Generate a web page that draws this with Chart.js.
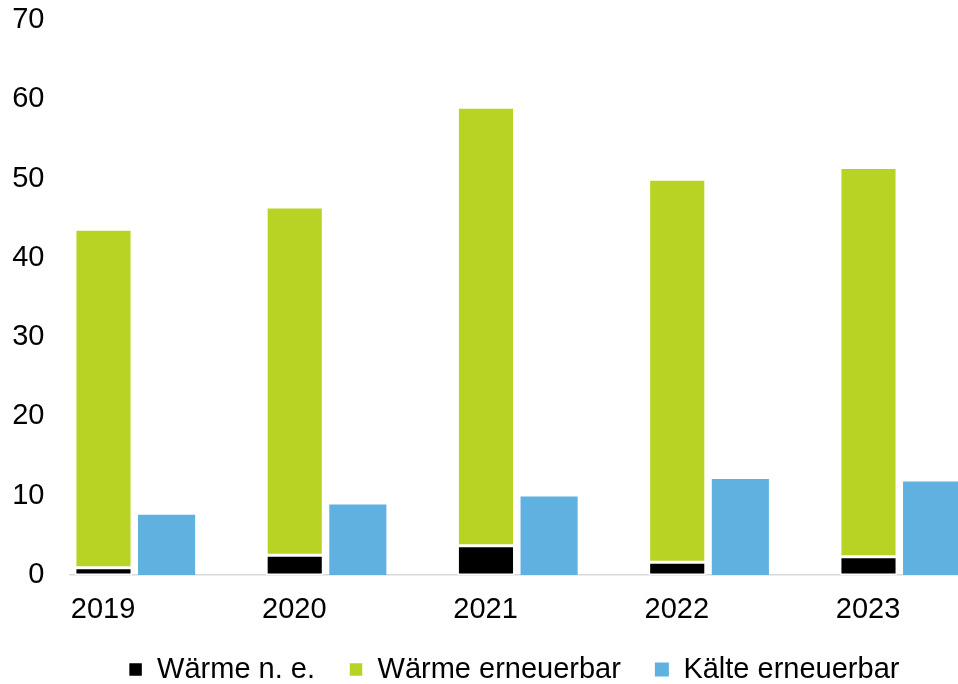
<!DOCTYPE html>
<html>
<head>
    <title>Wärme und Kälte</title>
    <script src="https://cdn.jsdelivr.net/npm/chart.js"></script>
    <style>
        html, body { margin: 0; padding: 0; overflow: hidden; background: #fff; }
        canvas { display: block; }
    </style>
</head>
<body>
    <canvas id="waermeChart" width="958" height="684"></canvas>
    <script>
        // values
        let years = ["2019", "2020", "2021", "2022", "2023"];
        let waermeNE = [0.9, 2.5, 3.7, 1.6, 2.3];
        let waermeErneuerbar = [42.7, 43.9, 55.3, 48.3, 49.1];
        let kaelteErneuerbar = [7.6, 8.9, 9.9, 12.1, 11.8];
        let yTicks = [0, 10, 20, 30, 40, 50, 60, 70];

        function toPoints(values) {
            return values.map(function (v, i) { return { x: i, y: v }; });
        }

        Chart.defaults.font.family = "'Liberation Sans', Arial, sans-serif";
        Chart.defaults.font.size = 29;
        Chart.defaults.color = "#000";

        let ctx = document.getElementById("waermeChart").getContext("2d");
        window.waermeChartInstance = new Chart(ctx, {
            type: 'bar',
            data: {
                datasets: [
                    {
                        label: 'Wärme n. e.',
                        data: toPoints(waermeNE),
                        backgroundColor: '#000000',
                        borderColor: '#ffffff',
                        borderWidth: 1.5,
                        borderSkipped: false,
                        stack: 'waerme'
                    },
                    {
                        label: 'Wärme erneuerbar',
                        data: toPoints(waermeErneuerbar),
                        backgroundColor: '#b9d325',
                        borderColor: '#ffffff',
                        borderWidth: 1.5,
                        borderSkipped: false,
                        stack: 'waerme'
                    },
                    {
                        label: 'Kälte erneuerbar',
                        data: toPoints(kaelteErneuerbar),
                        backgroundColor: '#61b1e0',
                        borderWidth: 0,
                        stack: 'kaelte'
                    }
                ]
            },
            options: {
                responsive: false,
                animation: false,
                categoryPercentage: 0.66,
                barPercentage: 0.905,
                layout: {
                    padding: { top: 0, left: 0, right: 0, bottom: -10 }
                },
                plugins: {
                    tooltip: { enabled: false },
                    legend: {
                        position: 'bottom',
                        fullSize: false,
                        labels: {
                            boxWidth: 14,
                            boxHeight: 14,
                            padding: 34
                        }
                    }
                },
                scales: {
                    x: {
                        type: 'linear',
                        stacked: true,
                        offset: false,
                        min: -0.34,
                        max: 4.303,
                        afterBuildTicks: function (scale) {
                            scale.ticks = years.map(function (y, i) { return { value: i }; });
                        },
                        afterFit: function (scale) {
                            scale.height = 46;
                        },
                        ticks: {
                            labelOffset: -32,
                            padding: 25,
                            autoSkip: false,
                            maxRotation: 0,
                            font: { lineHeight: 0.7 },
                            callback: function (value) { return years[value]; }
                        },
                        grid: { display: false, drawTicks: false },
                        border: { display: true, color: '#d9d9d9', width: 1.5 }
                    },
                    y: {
                        stacked: true,
                        min: 0,
                        max: 70,
                        afterBuildTicks: function (scale) {
                            scale.ticks = yTicks.map(function (v) { return { value: v }; });
                        },
                        afterFit: function (scale) {
                            scale.width = 70;
                            scale.paddingTop = 20;
                            scale.paddingBottom = 0;
                        },
                        ticks: {
                            padding: 25.5
                        },
                        grid: { display: false, drawTicks: false },
                        border: { display: false }
                    }
                }
            }
        });
    </script>
</body>
</html>
